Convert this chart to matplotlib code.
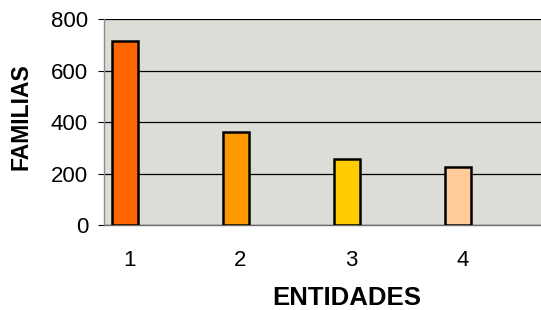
import matplotlib
matplotlib.use("Agg")
import matplotlib.pyplot as plt
import numpy as np

categories = ["1", "2", "3", "4"]
values = [717, 363, 259, 225]
colors = ["#FF6600", "#FF9900", "#FFCC00", "#FFCC99"]
yticks = [0, 200, 400, 600, 800]

plt.rcParams['font.family'] = ['Liberation Sans', 'DejaVu Sans']

fig = plt.figure(figsize=(5.41, 3.10), dpi=100)
ax = fig.add_axes([104/541, (310-225.3)/310, 437/541, 206/310])
ax.set_facecolor("#DDDDD8")

x = np.arange(1, len(values) + 1)
ax.bar(x, values, width=0.24, color=colors, edgecolor="black", linewidth=1.8, zorder=3)

ax.set_xlim(0.811, 4.748)
ax.set_ylim(0, 800)
ax.set_yticks(yticks)
ax.set_yticklabels([str(t) for t in yticks])
ax.yaxis.grid(True, color="black", linewidth=0.9, zorder=0)
ax.set_axisbelow(True)

ax.set_xticks(x + 0.04)
ax.set_xticklabels(categories)

for s in ["top", "right"]:
    ax.spines[s].set_visible(False)
ax.spines["left"].set_color("#8C8C8C")
ax.spines["bottom"].set_color("#6E6E6E")
ax.spines["left"].set_linewidth(1.0)
ax.spines["bottom"].set_linewidth(1.0)

ax.tick_params(axis="y", length=4.5, width=0.8, color="black", pad=7, labelsize=16)
ax.tick_params(axis="x", length=0, pad=18, labelsize=16)

fig.text(346.5/541, 1 - 298/310, "ENTIDADES", ha="center", va="center",
         fontsize=18.5, fontweight="bold")
fig.text(21/541, 1 - 117/310, "FAMILIAS", ha="center", va="center",
         fontsize=16.5, fontweight="bold", rotation=90)

fig.savefig("out.png", dpi=100)
